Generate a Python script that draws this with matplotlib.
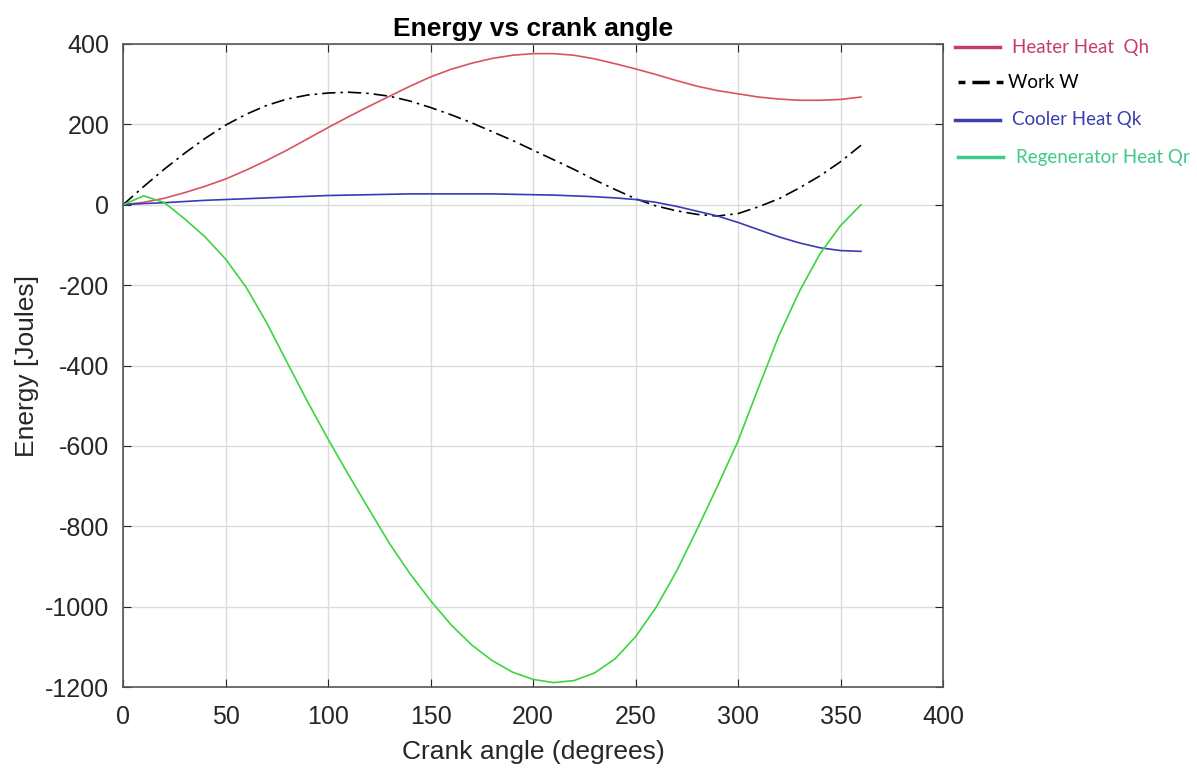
import numpy as np
import matplotlib.pyplot as plt
from matplotlib.lines import Line2D

plt.rcParams['font.family'] = ['Liberation Sans', 'DejaVu Sans']
plt.rcParams['axes.unicode_minus'] = False

# crank angle in degrees
angle = np.arange(0, 361, 10)

# heater heat Qh
Qh = [0, 6, 16, 30, 46, 64, 86, 110, 136, 164, 192, 219, 245, 270, 295, 318, 337, 352, 364,
      372, 376, 376, 372, 363, 351, 338, 324, 309, 295, 284, 276, 268, 263, 260, 260, 262, 268]
# work W
W = [0, 45, 88, 128, 165, 198, 225, 247, 263, 273, 278, 280, 277, 270, 258, 242, 224, 204, 182,
     160, 136, 112, 88, 62, 38, 15, -3, -15, -24, -28, -22, -5, 15, 42, 72, 107, 148]
# cooler heat Qk
Qk = [0, 3, 5, 8, 11, 13, 15, 17, 19, 21, 23, 24, 25, 26, 27, 27, 27, 27, 27,
      26, 25, 24, 22, 20, 17, 13, 6, -4, -16, -28, -44, -62, -80, -95, -107, -114, -116]
# regenerator heat Qr
Qr = [0, 22, 6, -35, -80, -135, -205, -293, -392, -490, -583, -672, -758, -843, -918, -985,
      -1045, -1095, -1134, -1163, -1181, -1189, -1184, -1165, -1130, -1075, -1002, -912, -808,
      -700, -588, -455, -325, -215, -122, -52, 0]

legend_labels = ['Heater Heat  Qh', 'Work W', 'Cooler Heat Qk', 'Regenerator Heat Qr']

fig = plt.figure(figsize=(11.97, 7.69), dpi=100)
ax = fig.add_axes([0.1028, 0.1066, 0.685, 0.8362])

ax.plot(angle, Qh, color='#d9545e', lw=1.2)
ax.plot(angle, W, color='black', lw=1.2, linestyle=(0, (8, 3, 1.5, 3)))
ax.plot(angle, Qk, color='#3a3ab8', lw=1.2)
ax.plot(angle, Qr, color='#3ed43e', lw=1.2)

ax.set_xlim(0, 400)
ax.set_ylim(-1200, 400)
ax.set_xticks(np.arange(0, 401, 50))
ax.set_yticks(np.arange(-1200, 401, 200))
ax.grid(True, color='#dcdcdc', lw=1)
ax.tick_params(direction='in', top=True, right=True, length=6, labelsize=18,
               colors='#262626')
ax.tick_params(axis='x', pad=13)
ax.tick_params(axis='y', pad=10)
for s in ax.spines.values():
    s.set_color('#555555')
    s.set_linewidth(1.2)

ax.set_xlabel('Crank angle (degrees)', fontsize=19, color='#262626', labelpad=8)
ax.set_ylabel('Energy [Joules]', fontsize=19, color='#262626', labelpad=4)
ax.set_title('Energy vs crank angle', fontsize=19, fontweight='bold', pad=6)

# legend drawn as a separate block to the right of the axes
W_, H_ = 1197.0, 769.0
leg_colors = ['#c43d6c', 'black', '#3b3fae', '#3ec98a']
leg_styles = ['-', (0, (2, 2, 5, 2, 2, 2)), '-', '-']
leg_y = [47, 82, 120, 157]
leg_x0 = [955, 958, 955, 958]
text_x = [1012, 1008, 1012, 1016]
for c, ls, y, x0, tx, lab in zip(leg_colors, leg_styles, leg_y, leg_x0, text_x, legend_labels):
    fig.add_artist(Line2D([x0 / W_, (x0 + 45) / W_], [1 - y / H_, 1 - y / H_],
                          color=c, lw=2.5, linestyle=ls, transform=fig.transFigure))
    fig.text(tx / W_, 1 - y / H_, lab, color=c, fontsize=13.5,
             family=['Lato', 'DejaVu Sans'], va='center', ha='left')

fig.savefig('out.png', dpi=100)
